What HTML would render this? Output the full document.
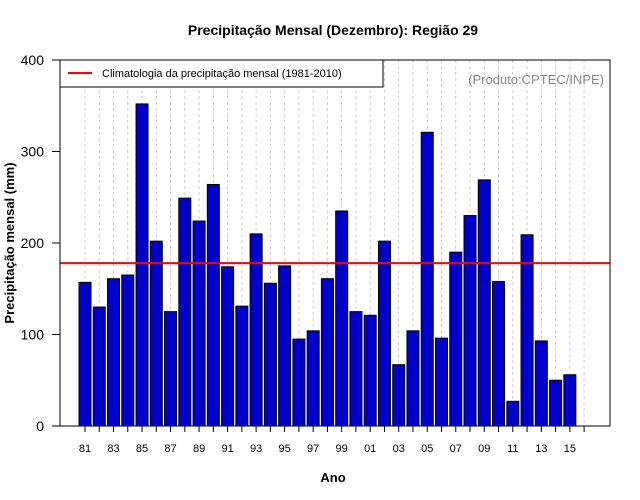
<!DOCTYPE html>
<html><head><meta charset="utf-8"><style>
body{margin:0;background:#fff}
svg{display:block;font-family:"Liberation Sans",sans-serif}
</style></head><body>
<svg id="c" width="640" height="500">
<text x="333" y="35" text-anchor="middle" font-size="14" font-weight="bold">Precipitação Mensal (Dezembro): Região 29</text>
<text x="333" y="482" text-anchor="middle" font-size="13" font-weight="bold">Ano</text>
<text transform="translate(14,243) rotate(-90)" text-anchor="middle" font-size="13" font-weight="bold">Precipitação mensal (mm)</text>
<g id="grid"></g><g id="bars"></g><g id="axes"></g>
<line id="clim" x1="60" x2="610" stroke="#f00" stroke-width="2"/>
<rect x="60" y="60" width="550" height="366" fill="none" stroke="#000"/>
<g>
<rect x="60" y="60" width="323" height="27" fill="#fff" stroke="#000"/>
<line x1="68" x2="92" y1="73" y2="73" stroke="#f00" stroke-width="2"/>
<text x="102" y="77" font-size="11">Climatologia da precipitação mensal (1981-2010)</text>
</g>
<text x="604" y="84" text-anchor="end" font-size="13" fill="#888">(Produto:CPTEC/INPE)</text>
</svg>
<script>
const years=["81","82","83","84","85","86","87","88","89","90","91","92","93","94","95","96","97","98","99","00","01","02","03","04","05","06","07","08","09","10","11","12","13","14","15"];
const values=[157,130,161,165,352,202,125,249,224,264,174,131,210,156,175,95,104,161,235,125,121,202,67,104,321,96,190,230,269,158,27,209,93,50,56];
const climatology=178;
const yTicks=[0,100,200,300,400];
const NS="http://www.w3.org/2000/svg";
const y=v=>426-v*366/400;
const x=i=>85+i*14.26;
function mk(t,a,p){const e=document.createElementNS(NS,t);for(const k in a)e.setAttribute(k,a[k]);p.appendChild(e);return e;}
const g=document.getElementById('grid'),b=document.getElementById('bars'),ax=document.getElementById('axes');
for(let i=0;i<=years.length;i++){
 const l=mk('line',{x1:x(i),x2:x(i),y1:60,y2:426,stroke:'#ccc','stroke-dasharray':'3,3'},g);
 
 
 const t=mk('line',{x1:x(i),x2:x(i),y1:426,y2:432,stroke:'#000'},ax);
 
 
}
values.forEach((v,i)=>{
 const r=mk('rect',{x:x(i)-6,y:y(v),width:12,height:426-y(v),fill:'#0000cd',stroke:'#000'},b);
 
 
 if(i%2===0){const t=mk('text',{x:x(i),y:452,'text-anchor':'middle','font-size':'11'},ax);t.textContent=years[i];
 
 }
});
yTicks.forEach(v=>{
 mk('line',{x1:52,x2:60,y1:y(v),y2:y(v),stroke:'#000'},ax);
 const t=mk('text',{x:44,y:y(v)+5,'text-anchor':'end','font-size':'14'},ax);t.textContent=v;
 
 
});
const c=document.getElementById('clim');c.setAttribute('y1',y(climatology));c.setAttribute('y2',y(climatology));
</script>
</body></html>
